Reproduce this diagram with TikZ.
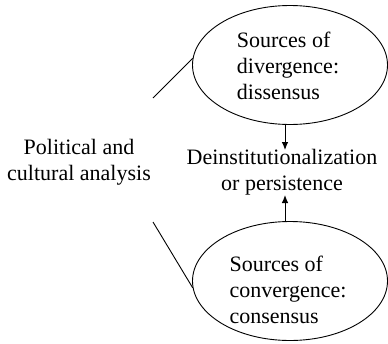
\documentclass[tikz,border=0pt]{standalone}
\usepackage{fontspec}
\setmainfont{Liberation Serif}
\usetikzlibrary{shapes.geometric,positioning,arrows.meta}

\begin{document}
\begin{tikzpicture}[x=1pt, y=-1pt, line width=0.9pt,
    every node/.style={font=\fontsize{22}{26}\selectfont},
    source/.style={draw, ellipse, minimum width=195pt, minimum height=119pt, inner sep=0pt},
    arrowline/.style={-{Latex[length=8pt,width=6.5pt]}}]
    \useasboundingbox (0,0) rectangle (388,343);

    % Ellipses for the two sources
    \node[source] (diverge) at (290,65) {};
    \node[source] (converge) at (290,281) {};
    \node[align=left] (divtext) at (288,66) {Sources of\\divergence:\\dissensus};
    \node[align=left] (context) at (288,290) {Sources of\\convergence:\\consensus};

    % Middle and left labels
    \node[align=center, inner sep=1pt] (outcome) at (282,172) {Deinstitutionalization\\or persistence};
    \node[align=center] (analysis) at (79,162) {Political and\\cultural analysis};

    % Branches from the analysis
    \coordinate (branchtop) at (153,98);
    \coordinate (branchbot) at (153,222);
    \draw (branchtop) -- (diverge.176);
    \draw (branchbot) -- (converge.184);

    % Arrows into the outcome
    \draw[arrowline] (diverge.south -| 285,0) -- (285,150);
    \draw[arrowline] (converge.north -| 285,0) -- (285,195);
\end{tikzpicture}
\end{document}
